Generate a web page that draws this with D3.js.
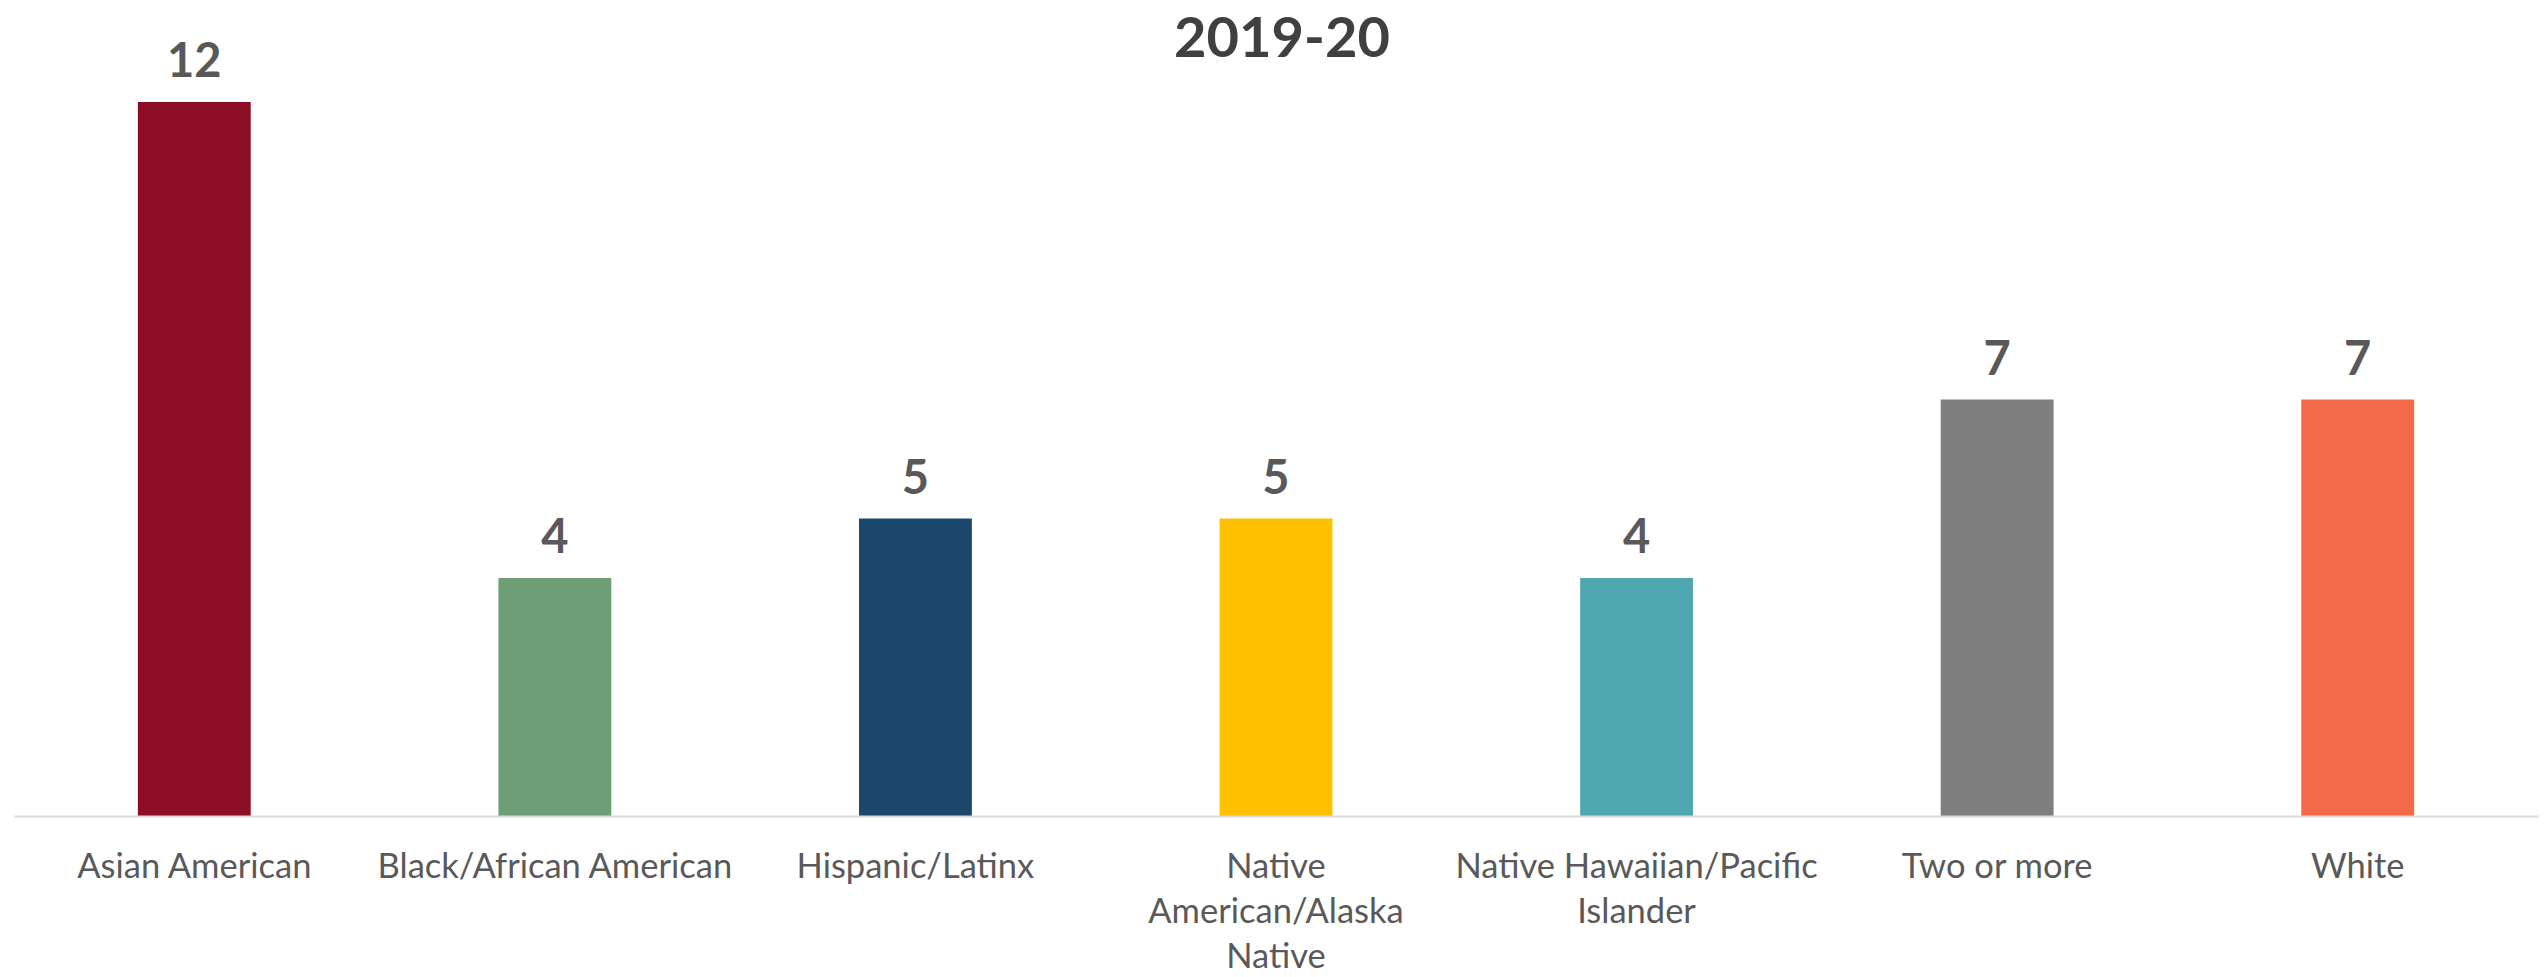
<!DOCTYPE html>
<html>
<head>
<meta charset="utf-8">
<script src="https://cdn.jsdelivr.net/npm/d3@7"></script>
<style>
  html, body { margin: 0; padding: 0; background: #ffffff; }
  svg { display: block; }
</style>
</head>
<body>
<svg id="chart" width="2548" height="977"></svg>
<script>
// Chart data
const title = "2019-20";
const categories = [
  "Asian American",
  "Black/African American",
  "Hispanic/Latinx",
  "Native\nAmerican/Alaska\nNative",
  "Native Hawaiian/Pacific\nIslander",
  "Two or more",
  "White"
];
const values = [12, 4, 5, 5, 4, 7, 7];
const barColors = ["#8B0E24", "#6E9E75", "#1B476D", "#FFC000", "#4FA8B0", "#7F7F7F", "#F26A4A"];

const W = 2548, H = 977;
const fontFamily = "Lato, 'Open Sans', sans-serif";
const svg = d3.select("#chart");

const gap = 0.687;
const x = d3.scaleBand()
  .domain(categories)
  .range([14, 2538])
  .paddingInner(gap)
  .paddingOuter(gap / 2);

const y = d3.scaleLinear()
  .domain([0, 12])
  .range([816, 102]);

// Title
svg.append("text")
  .attr("x", 1282)
  .attr("y", 57)
  .attr("text-anchor", "middle")
  .attr("font-family", fontFamily)
  .attr("font-weight", 700)
  .attr("font-size", 56)
  .attr("fill", "#404040")
  .text(title);

// Bars
svg.append("g")
  .selectAll("rect")
  .data(categories)
  .join("rect")
  .attr("x", d => x(d))
  .attr("width", x.bandwidth())
  .attr("y", (d, i) => y(values[i]))
  .attr("height", (d, i) => y(0) - y(values[i]))
  .attr("fill", (d, i) => barColors[i]);

// Value labels
svg.append("g")
  .selectAll("text")
  .data(categories)
  .join("text")
  .attr("x", d => x(d) + x.bandwidth() / 2)
  .attr("y", (d, i) => y(values[i]) - 25)
  .attr("text-anchor", "middle")
  .attr("font-family", fontFamily)
  .attr("font-weight", 700)
  .attr("font-size", 47)
  .attr("fill", "#595959")
  .text((d, i) => values[i]);

// Category axis
const axis = svg.append("g")
  .attr("transform", `translate(0,${y(0)})`)
  .call(d3.axisBottom(x).tickSize(0).tickPadding(0));

axis.select(".domain")
  .attr("stroke", "#D9D9D9")
  .attr("stroke-width", 2);

axis.selectAll(".tick text")
  .attr("font-family", fontFamily)
  .attr("font-size", 34.5)
  .attr("fill", "#595959")
  .attr("dy", null)
  .attr("y", 0)
  .each(function (d) {
    const t = d3.select(this);
    t.text(null);
    d.split("\n").forEach((line, k) => {
      t.append("tspan")
        .attr("x", 0)
        .attr("y", 62 + k * 45)
        .text(line);
    });
  });
</script>
</body>
</html>
